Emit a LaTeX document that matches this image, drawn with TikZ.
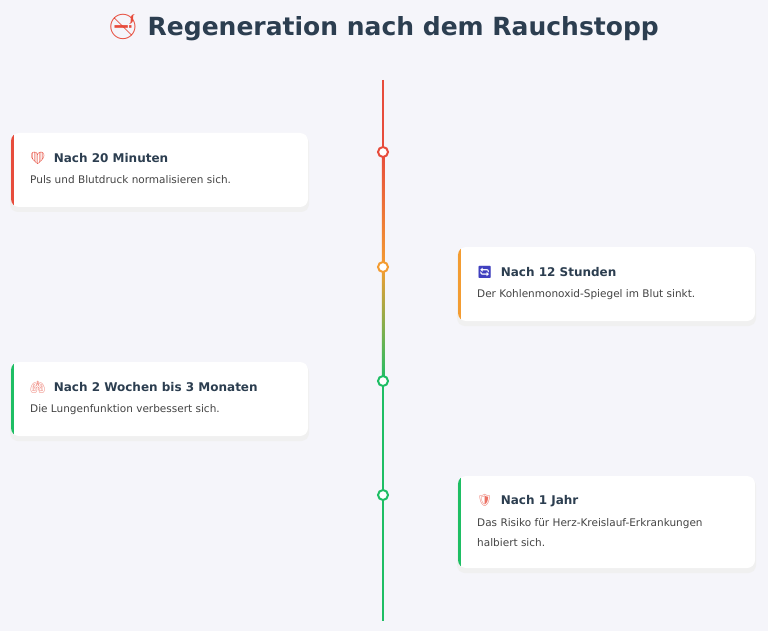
\documentclass[tikz,border=0pt]{standalone}
\usepackage{fontspec}
\setmainfont{DejaVu Sans}
\newfontfamily\emo{Noto Emoji}
\usetikzlibrary{positioning}
\definecolor{bgc}{HTML}{F5F5FA}
\definecolor{ink}{HTML}{2C3E50}
\definecolor{body}{HTML}{444444}
\definecolor{redc}{HTML}{E74C3C}
\definecolor{orc}{HTML}{F39C32}
\definecolor{grc}{HTML}{1EBE64}
\tikzset{
  card/.style={fill=white, rounded corners=8pt},
  headtxt/.style={anchor=west, font=\bfseries\fontsize{12}{14}\selectfont, text=ink, inner sep=0pt},
  bodytxt/.style={anchor=north west, font=\fontsize{10.5}{20}\selectfont, text=body, inner sep=0pt, align=left},
  dot/.style={circle, draw=#1, line width=2pt, fill=white, minimum size=10pt, inner sep=0pt}
}
\newcommand{\stepcard}[6]{% x, y top, height, colour, head, body
  \fill[black!6, rounded corners=8pt] (#1-1,#2+2) rectangle ++(299,#3+3);
  \fill[card] (#1,#2) rectangle ++(297,#3);
  \begin{scope}
    \clip[rounded corners=8pt] (#1,#2) rectangle ++(297,#3);
    \fill[#4] (#1,#2) rectangle ++(2.5,#3);
  \end{scope}
  \node[headtxt] at (#1+19,#2+25) {#5};
  \node[bodytxt] at (#1+19,#2+42) {#6};
}
\begin{document}
\begin{tikzpicture}[x=1pt,y=-1pt]
    \fill[bgc] (0,0) rectangle (768,631);
    \useasboundingbox (0,0) rectangle (768,631);
    \node[font=\bfseries\fontsize{25}{30}\selectfont, text=ink] (title) at (383,28)
        {{\emo\color{redc}🚭} Regeneration nach dem Rauchstopp};
    % timeline
    \draw[redc, line width=2.5pt] (383,80) -- (383,152);
    \shade[top color=redc, bottom color=orc] (381.75,152) rectangle (384.25,267);
    \shade[top color=orc, bottom color=grc] (381.75,267) rectangle (384.25,381);
    \draw[grc, line width=2.5pt] (383,381) -- (383,621);
    \node[dot=redc] (d1) at (383,152) {};
    \node[dot=orc] (d2) at (383,267) {};
    \node[dot=grc] (d3) at (383,381) {};
    \node[dot=grc] (d4) at (383,495) {};
    % cards
    \stepcard{11}{133}{74}{redc}{{\emo\color{redc}❤}\ \ Nach 20 Minuten}{Puls und Blutdruck normalisieren sich.}
    \stepcard{458}{247}{74}{orc}{{\emo\color{blue!50!gray}🔄}\ \ Nach 12 Stunden}{Der Kohlenmonoxid-Spiegel im Blut sinkt.}
    \stepcard{11}{362}{74}{grc}{{\emo\color{redc!70}🫁}\ \ Nach 2 Wochen bis 3 Monaten}{Die Lungenfunktion verbessert sich.}
    \stepcard{458}{476}{92}{grc}{{\emo\color{redc!80}🛡}\ \ Nach 1 Jahr}{Das Risiko für Herz-Kreislauf-Erkrankungen\\halbiert sich.}
\end{tikzpicture}
\end{document}
